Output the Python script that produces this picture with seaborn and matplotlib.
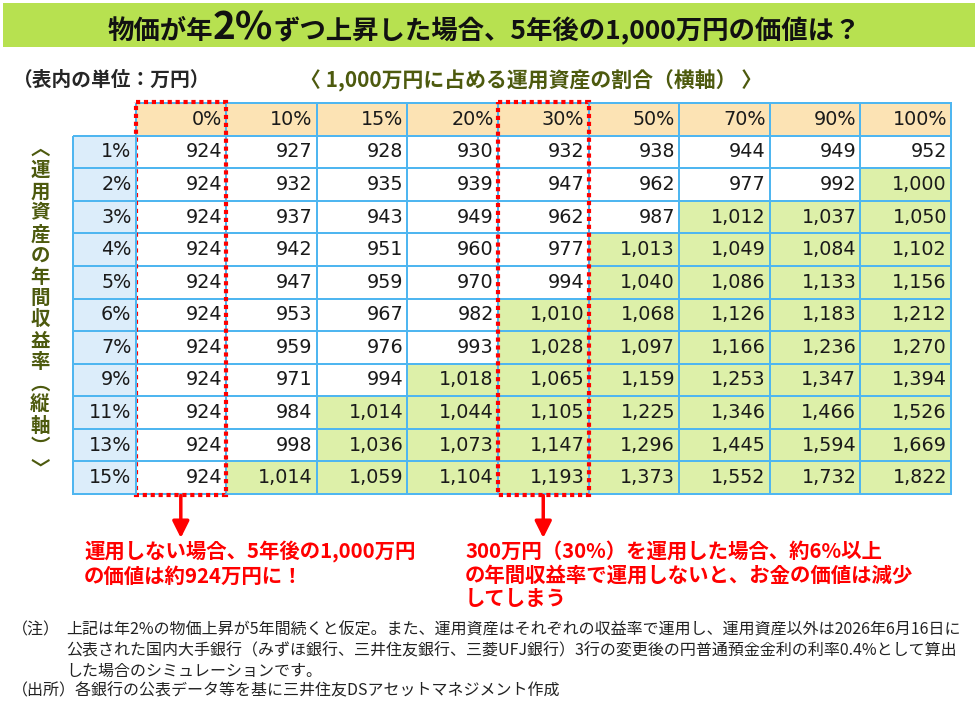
import numpy as np
import matplotlib
matplotlib.use("Agg")
import matplotlib.pyplot as plt
from matplotlib.colors import ListedColormap
from matplotlib.patches import Rectangle
import seaborn as sns

# share of the 10 million yen put into investments (columns)
share_labels = ["0%", "10%", "15%", "20%", "30%", "50%", "70%", "90%", "100%"]
# annual return of the invested part (rows)
return_labels = ["1%", "2%", "3%", "4%", "5%", "6%", "7%", "9%", "11%", "13%", "15%"]
# value after 5 years (unit: 万円)
values = [
    [924, 927, 928, 930, 932, 938, 944, 949, 952],
    [924, 932, 935, 939, 947, 962, 977, 992, 1000],
    [924, 937, 943, 949, 962, 987, 1012, 1037, 1050],
    [924, 942, 951, 960, 977, 1013, 1049, 1084, 1102],
    [924, 947, 959, 970, 994, 1040, 1086, 1133, 1156],
    [924, 953, 967, 982, 1010, 1068, 1126, 1183, 1212],
    [924, 959, 976, 993, 1028, 1097, 1166, 1236, 1270],
    [924, 971, 994, 1018, 1065, 1159, 1253, 1347, 1394],
    [924, 984, 1014, 1044, 1105, 1225, 1346, 1466, 1526],
    [924, 998, 1036, 1073, 1147, 1296, 1445, 1594, 1669],
    [924, 1014, 1059, 1104, 1193, 1373, 1552, 1732, 1822],
]
highlight_cols = ["0%", "30%"]

W, H = 980, 703


def fx(px):
    return px / W


def fy(py):
    return 1 - py / H


sns.set_theme(style="white")
plt.rcParams["font.family"] = ["Noto Sans CJK JP", "DejaVu Sans"]

fig = plt.figure(figsize=(W / 100, H / 100), dpi=100)
fig.patch.set_facecolor("white")

grid_color = "#4fb6f0"
grid_lw = 1.4
red = "#ff0000"
olive = "#4d5a0e"
cell_font = {"fontsize": 13.8, "color": "#1a1a1a", "family": "DejaVu Sans"}

# ---- title bar ----
fig.patches.append(Rectangle((fx(3), fy(47)), fx(972), 44 / H, transform=fig.transFigure,
                             facecolor="#b7e150", edgecolor="none", zorder=0))
renderer = fig.canvas.get_renderer()
pieces = [("物価が年", 19), ("2%", 28), ("ずつ上昇した場合、5年後の1,000万円の価値は？", 19)]
texts = []
x = fx(95)
for s, size in pieces:
    t = fig.text(x, fy(39), s, fontsize=size, fontweight="bold", va="baseline", ha="left",
                 color="#111111")
    bb = t.get_window_extent(renderer)
    x = bb.x1 / W
    texts.append(t)
total = x - fx(95)
shift = fx(484) - (fx(95) + total / 2)
for t in texts:
    px, py = t.get_position()
    t.set_position((px + shift, py))

# ---- labels above / beside the table ----
fig.text(fx(13), fy(80), "（表内の単位：万円）", fontsize=14.2, fontweight="bold",
         color="#262626", va="center", ha="left")
fig.text(fx(531), fy(81), "〈 1,000万円に占める運用資産の割合（横軸） 〉", fontsize=15,
         fontweight="bold", color=olive, va="center", ha="center")

vchars = ["︿", "運", "用", "資", "産", "の", "年", "間", "収", "益", "率",
          "︵", "縦", "軸", "︶", "﹀"]
fig.text(fx(40), fy(309), "\n".join(vchars), fontsize=14, fontweight="bold", color=olive,
         va="center", ha="center", linespacing=1.15)

# ---- table body (header row + values) ----
vals = np.array(values)
codes = np.vstack([np.full((1, len(share_labels)), 2), (vals >= 1000).astype(int)])
annot = np.vstack([np.array(share_labels),
                   np.array([[f"{v:,}" for v in row] for row in values])])

top, bottom = 103, 494
row_h = (bottom - top) / codes.shape[0]

ax = fig.add_axes([fx(135.5), fy(bottom), (951 - 135.5) / W, (bottom - top) / H])
sns.heatmap(codes, ax=ax, cmap=ListedColormap(["#ffffff", "#ddf0a9", "#fce3b4"]),
            vmin=-0.5, vmax=2.5, cbar=False, annot=annot, fmt="",
            linewidths=grid_lw, linecolor=grid_color, annot_kws=cell_font)

# row header column (no cell in the top-left corner)
rcodes = np.zeros((len(return_labels), 1))
rannot = np.array([[r] for r in return_labels])
axr = fig.add_axes([fx(73), fy(bottom), (135.5 - 73) / W, (bottom - top - row_h) / H])
sns.heatmap(rcodes, ax=axr, cmap=ListedColormap(["#dcedfa"]), vmin=0, vmax=1,
            cbar=False, annot=rannot, fmt="", linewidths=grid_lw, linecolor=grid_color,
            annot_kws=cell_font)

for a, pad in [(ax, 0.045), (axr, 0.065)]:
    a.set_xticks([])
    a.set_yticks([])
    a.collections[0].set_clip_on(False)
    for t in a.texts:
        tx, ty = t.get_position()
        t.set_position((tx + 0.5 - pad, ty))
        t.set_ha("right")

# red dotted boxes + arrows
nrows = codes.shape[0]
for col in highlight_cols:
    c = share_labels.index(col)
    ax.add_patch(Rectangle((c, -0.03), 1, nrows + 0.06, fill=False, edgecolor=red,
                           linewidth=3, linestyle=(0, (1, 0.9)), clip_on=False, zorder=5))
    ax.annotate("", xy=(c + 0.5, 13.35), xytext=(c + 0.5, 12.05),
                arrowprops=dict(arrowstyle="-|>,head_length=1.0,head_width=0.5",
                                color=red, lw=2.5, shrinkA=0, shrinkB=0, mutation_scale=10),
                annotation_clip=False)

# ---- red callouts ----
fig.text(fx(84), fy(541), "運用しない場合、5年後の1,000万円\nの価値は約924万円に！",
         fontsize=14.7, fontweight="bold", color=red, va="top", ha="left", linespacing=1.15)
fig.text(fx(465), fy(541),
         "300万円（30%）を運用した場合、約6%以上\nの年間収益率で運用しないと、お金の価値は減少\nしてしまう",
         fontsize=14.7, fontweight="bold", color=red, va="top", ha="left", linespacing=1.15)

# ---- notes ----
note_lines = [
    "上記は年2%の物価上昇が5年間続くと仮定。また、運用資産はそれぞれの収益率で運用し、運用資産以外は2026年6月16日に",
    "公表された国内大手銀行（みずほ銀行、三井住友銀行、三菱UFJ銀行）3行の変更後の円普通預金金利の利率0.4%として算出",
    "した場合のシミュレーションです。",
]
fig.text(fx(12), fy(630), "（注）", fontsize=11.5, color="#222222", va="center", ha="left")
for i, line in enumerate(note_lines):
    fig.text(fx(66), fy(630 + 20.5 * i), line, fontsize=11.5, color="#222222",
             va="center", ha="left")
fig.text(fx(12), fy(691), "（出所）各銀行の公表データ等を基に三井住友DSアセットマネジメント作成",
         fontsize=11.5, color="#222222", va="center", ha="left")

fig.savefig("out.png", dpi=100, facecolor="white")
